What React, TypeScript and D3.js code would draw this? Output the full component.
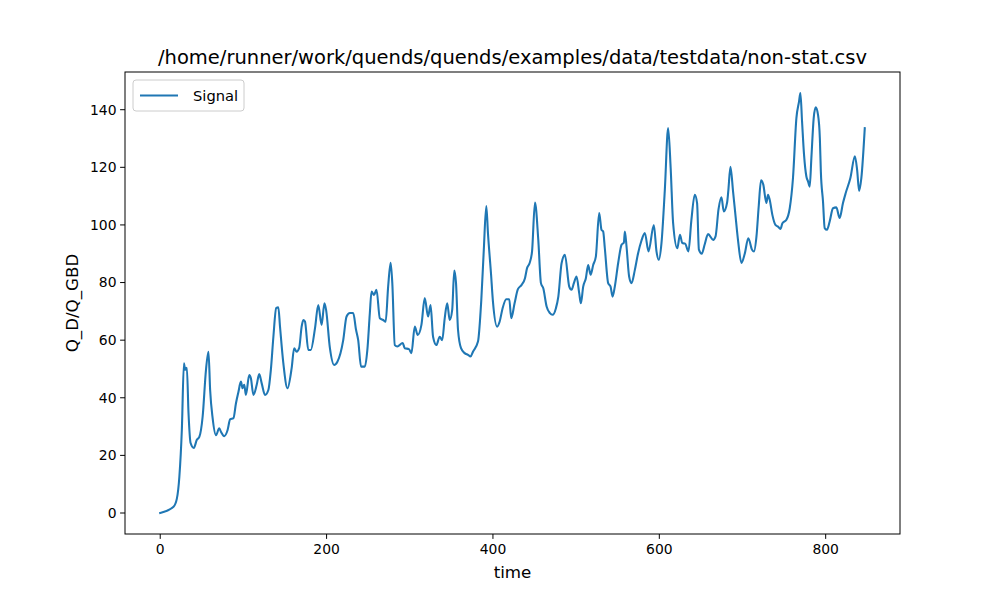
import React from "react";
import * as d3 from "d3";

const timeValues: number[] = [
  0, 16, 20, 23, 26, 28.5, 30, 32, 34, 36.5, 40.4, 44, 47, 51, 55, 58, 60, 63, 67, 71, 73, 77, 81, 84, 88, 91, 94, 97, 99, 101, 103, 107, 109, 112, 116, 119, 122, 126, 130, 133, 136, 139.4, 142, 144, 148, 153, 158, 161, 164, 167, 170, 172, 174, 178, 181, 186, 190, 194, 197.4, 199.4, 204, 209, 213, 220, 224, 228, 232, 235.4, 238, 241.4, 246, 249, 252, 254, 257, 260, 264, 268, 271, 274, 277, 279, 282, 285, 291.5, 294, 299, 302, 306, 309.5, 314, 318, 322, 325, 328, 332, 336, 339, 342, 345, 348, 351, 353.5, 355.6, 358, 361.6, 366, 370, 373, 376, 382, 386, 389, 392, 394, 397.6, 400, 405, 408, 411.6, 416, 419.6, 422, 426, 430, 434.5, 438.5, 441, 444, 447, 450.5, 454.5, 457.7, 460.5, 464.5, 468.5, 471.7, 475.7, 478.6, 482.5, 486.5, 491.7, 494.5, 497.3, 500.5, 503.7, 505.7, 508.5, 511.7, 514.5, 517.4, 520.5, 523.7, 527.7, 530.5, 532.5, 534.5, 538.5, 541.4, 543.8, 546.5, 550.5, 554.6, 557.4, 558.6, 560.6, 563.7, 566.6, 570.6, 574.5, 578.5, 582.6, 587, 593.4, 596.6, 599.4, 602.6, 606.6, 610.6, 613.6, 616.6, 621.6, 624.8, 627.6, 631, 635, 638.5, 642.6, 645.4, 647.6, 651, 654.7, 658.6, 664.8, 667.6, 671.2, 674.7, 677.5, 681.5, 683, 685.5, 688.7, 691.7, 694.7, 698.7, 702.7, 707, 711.5, 713.8, 716.8, 719.5, 722.3, 725, 728.7, 730.7, 732.7, 735.9, 739.6, 742.7, 745.6, 748, 752.8, 756.8, 760.7, 764.8, 768, 769.6, 771.6, 774, 776.8, 778.8, 780.8, 782.8, 785.6, 788, 790.8, 793, 794.2, 796.8, 798.8, 801.6, 804.8, 808.8, 812.8, 816.8, 820.8, 824, 829.7, 835.1, 837.8, 840.2, 842.9, 847,
];

const signalValues: number[] = [
  0, 2.2, 5, 12.6, 29, 52, 49.7, 50.4, 34.7, 24.3, 22.6, 25.4, 26.4, 33.5, 49.7, 56, 42.7, 32.9, 27, 29.4, 28.2, 26.7, 28.8, 32.5, 32.9, 38, 42, 45.6, 43.3, 44.5, 41, 47.9, 46.8, 41, 44.5, 48.2, 45, 41, 42.7, 49.7, 61, 71.1, 71.4, 64.7, 52, 43.3, 50.3, 57.2, 56, 57.2, 64.7, 67, 66.5, 56.6, 56.6, 64, 72.2, 65.3, 72.8, 70.5, 57.2, 51.4, 52.5, 60, 68.2, 69.4, 69.4, 63.6, 60, 50.8, 50.8, 56.6, 69.4, 76.9, 75.7, 77.5, 67.6, 67, 66.4, 78.6, 86.9, 79.8, 58.3, 57.8, 59, 57.2, 56.9, 55.5, 64.7, 61.8, 65.3, 74.6, 68.2, 72.2, 61.2, 58.3, 61.2, 60, 67.6, 72.8, 67, 70.5, 84.2, 79.8, 63.6, 57.2, 55.5, 54.9, 54.3, 56, 59.5, 74, 91.4, 106.6, 97.1, 83.3, 73.4, 64.7, 66.4, 71.1, 74.2, 74.2, 67.6, 72.8, 77.7, 79.2, 81.5, 85, 86.7, 90.8, 107.8, 94.8, 79.8, 78, 71.7, 69.4, 68.8, 71.1, 75.1, 86.7, 89.6, 78.6, 77.5, 79.8, 82.1, 76.3, 72.8, 78.6, 81.5, 86.1, 82.7, 86.1, 89, 104.1, 98.3, 97.7, 91.9, 79.8, 78.6, 75.1, 78.6, 86.7, 93.1, 93.9, 97.7, 92.5, 82.1, 79.8, 84.4, 90.2, 94.5, 97.2, 90.8, 100, 90.8, 87.9, 93.7, 112, 133.6, 120, 100.6, 91.9, 96.6, 93.7, 93.5, 90.8, 101.5, 110.5, 107.6, 91.4, 90, 93.4, 96.8, 94.8, 96, 105.5, 109.6, 104.7, 107.8, 112, 120.2, 111.5, 102.9, 94.5, 86.8, 90, 95.4, 91.4, 90.8, 96, 106.5, 115.5, 114, 107.6, 110.5, 108.7, 103.5, 100, 99.4, 98.6, 100.6, 101.8, 105.8, 116.3, 137.1, 142.9, 145.8, 135.9, 124.3, 116.8, 115.1, 113.3, 123.2, 137.1, 140.8, 138.2, 130.1, 118.5, 108.1, 98.9, 98.3, 101.2, 105.8, 106.1, 102.4, 107.6, 111, 116.3, 123.8, 119.1, 111.8, 116.3, 133.6,
];

const xTicks: number[] = [0, 200, 400, 600, 800];
const yTicks: number[] = [0, 20, 40, 60, 80, 100, 120, 140];

const titleText = "/home/runner/work/quends/quends/examples/data/testdata/non-stat.csv";
const xLabel = "time";
const yLabel = "Q_D/Q_GBD";
const seriesName = "Signal";

const W = 1000;
const H = 600;
const L = 125;
const R = 900;
const T = 72;
const B = 534;
const FONT = "DejaVu Sans, sans-serif";
const COLOR = "#1f77b4";

export default function App() {
  const xMax = d3.max(timeValues) as number;
  const yMax = d3.max(signalValues) as number;
  const xPad = xMax * 0.05;
  const yPad = yMax * 0.05;
  const x = d3.scaleLinear().domain([-xPad, xMax + xPad]).range([L, R]);
  const y = d3.scaleLinear().domain([-yPad, yMax + yPad]).range([B, T]);
  const pts: [number, number][] = timeValues.map((t, i) => [t, signalValues[i]]);
  const line = d3
    .line<[number, number]>()
    .x((d) => x(d[0]))
    .y((d) => y(d[1]))
    .curve(d3.curveMonotoneX);

  return (
    <svg
      width={W}
      height={H}
      style={{ position: "absolute", left: 0, top: 0, background: "#fff" }}
      fontFamily={FONT}
    >
      <rect x={0} y={0} width={W} height={H} fill="#fff" />
      <path d={line(pts) || ""} fill="none" stroke={COLOR} strokeWidth={2.08} strokeLinejoin="round" strokeLinecap="square" />
      <rect x={L} y={T} width={R - L} height={B - T} fill="none" stroke="#000" strokeWidth={1} />
      {xTicks.map((t) => (
        <g key={"x" + t} transform={`translate(${x(t)},${B})`}>
          <line y1={0} y2={4.9} stroke="#000" strokeWidth={1} />
          <text y={20} textAnchor="middle" fontSize={13.9} fill="#000">
            {t}
          </text>
        </g>
      ))}
      {yTicks.map((t) => (
        <g key={"y" + t} transform={`translate(${L},${y(t)})`}>
          <line x1={0} x2={-4.9} stroke="#000" strokeWidth={1} />
          <text x={-8.5} dy="0.35em" textAnchor="end" fontSize={13.9} fill="#000">
            {t}
          </text>
        </g>
      ))}
      <text x={(L + R) / 2} y={64} textAnchor="middle" fontSize={19.5} fill="#000">
        {titleText}
      </text>
      <text x={(L + R) / 2} y={578} textAnchor="middle" fontSize={16.7} fill="#000">
        {xLabel}
      </text>
      <text
        transform={`translate(78,${(T + B) / 2}) rotate(-90)`}
        textAnchor="middle"
        fontSize={16.7}
        fill="#000"
      >
        {yLabel}
      </text>
      <g transform={`translate(133,80)`}>
        <rect x={0} y={0} width={111} height={31} rx={3} fill="#fff" fillOpacity={0.8} stroke="#ccc" strokeWidth={1} />
        <line x1={7} x2={45} y1={15.5} y2={15.5} stroke={COLOR} strokeWidth={2.08} />
        <text x={60} y={21} fontSize={14.7} fill="#000">
          {seriesName}
        </text>
      </g>
    </svg>
  );
}
